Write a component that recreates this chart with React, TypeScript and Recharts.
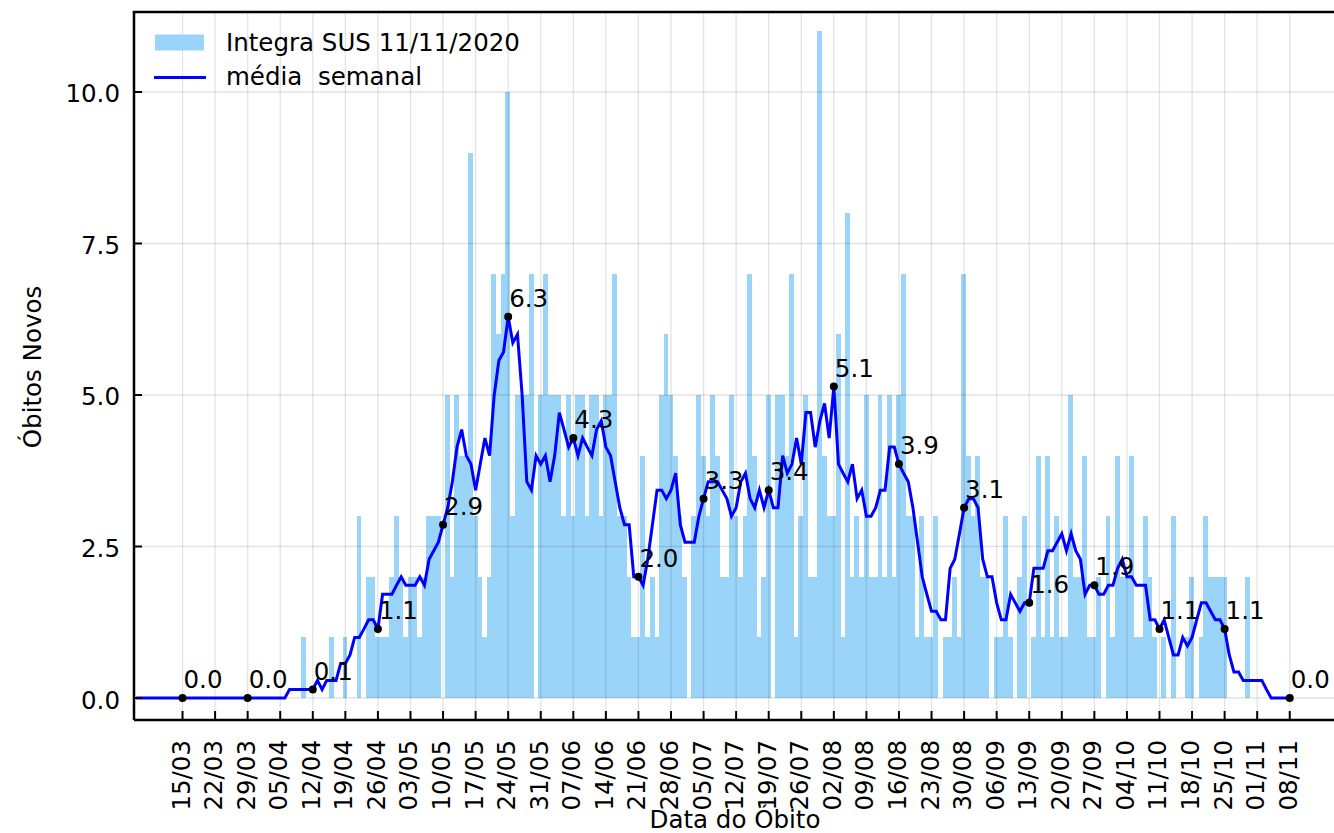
import React from 'react';
import { ComposedChart, Bar, Line, XAxis, YAxis, ReferenceLine } from 'recharts';

// day index 0 = 15/03/2020; arrays start at day -10
const FIRST_DAY = -10;

const dailyDeaths = [
  0, 0, 0, 0, 0, 0, 0, 0, 0, 0,
  0, 0, 0, 0, 0, 0, 0, 0, 0, 0,
  0, 0, 0, 0, 0, 0, 0, 0, 0, 0,
  0, 0, 0, 0, 0, 0, 1, 0, 0, 0,
  0, 0, 1, 0, 0, 1, 0, 0, 3, 0,
  2, 2, 1, 1, 1, 2, 3, 2, 1, 2,
  2, 1, 2, 3, 3, 3, 0, 5, 2, 5,
  4, 4, 9, 3, 2, 1, 2, 7, 6, 7,
  10, 3, 5, 5, 5, 7, 0, 5, 7, 5,
  5, 5, 3, 5, 3, 5, 5, 3, 5, 5,
  3, 5, 5, 7, 3, 3, 2, 1, 1, 4,
  1, 2, 1, 5, 6, 5, 4, 3, 2, 0,
  3, 5, 4, 3, 5, 4, 2, 2, 5, 3,
  2, 3, 7, 4, 1, 2, 5, 0, 5, 5,
  4, 7, 1, 3, 5, 2, 2, 11, 4, 3,
  3, 6, 1, 8, 2, 3, 2, 5, 2, 2,
  5, 2, 5, 2, 5, 7, 3, 3, 1, 3,
  1, 1, 3, 0, 1, 1, 2, 1, 7, 4,
  3, 4, 2, 2, 0, 1, 1, 3, 1, 0,
  2, 3, 0, 1, 4, 1, 4, 1, 3, 1,
  1, 5, 2, 2, 4, 1, 1, 2, 0, 3,
  1, 4, 2, 2, 4, 1, 1, 3, 2, 1,
  0, 1, 0, 3, 0, 0, 1, 2, 0, 1,
  3, 2, 2, 2, 2, 0, 0, 0, 0, 2,
  0, 0, 0, 0, 0, 0, 0, 0, 0,
];

const weeklyAverage = [
  0, 0, 0, 0, 0, 0, 0, 0, 0, 0,
  0, 0, 0, 0, 0, 0, 0, 0, 0, 0,
  0, 0, 0, 0, 0, 0, 0, 0, 0, 0,
  0, 0, 0, 0.14, 0.14, 0.14, 0.14, 0.14, 0.14, 0.29,
  0.14, 0.29, 0.29, 0.29, 0.57, 0.57, 0.71, 1.0, 1.0, 1.14,
  1.29, 1.29, 1.14, 1.71, 1.71, 1.71, 1.86, 2.0, 1.86, 1.86,
  1.86, 2.0, 1.86, 2.29, 2.43, 2.57, 2.86, 3.14, 3.57, 4.14,
  4.43, 4.0, 3.86, 3.43, 3.86, 4.29, 4.0, 5.0, 5.57, 5.71,
  6.29, 5.86, 6.0, 5.0, 3.57, 3.43, 4.0, 3.86, 4.0, 3.57,
  4.0, 4.71, 4.43, 4.14, 4.29, 4.0, 4.29, 4.14, 4.0, 4.43,
  4.57, 4.14, 4.0, 3.57, 3.14, 2.86, 2.86, 2.0, 2.0, 1.86,
  2.29, 2.86, 3.43, 3.43, 3.29, 3.43, 3.71, 2.86, 2.57, 2.57,
  2.57, 3.0, 3.29, 3.57, 3.57, 3.57, 3.43, 3.29, 3.0, 3.14,
  3.57, 3.71, 3.29, 3.14, 3.43, 3.14, 3.43, 3.14, 3.14, 4.0,
  3.71, 3.86, 4.29, 3.86, 4.71, 4.71, 4.14, 4.57, 4.86, 4.29,
  5.14, 3.86, 3.71, 3.57, 3.86, 3.29, 3.43, 3.0, 3.0, 3.14,
  3.43, 3.43, 4.14, 4.14, 3.86, 3.71, 3.57, 3.14, 2.57, 2.0,
  1.71, 1.43, 1.43, 1.29, 1.29, 2.14, 2.29, 2.71, 3.14, 3.29,
  3.29, 3.14, 2.29, 2.0, 2.0, 1.57, 1.29, 1.29, 1.71, 1.57,
  1.43, 1.57, 1.57, 2.14, 2.14, 2.14, 2.43, 2.43, 2.57, 2.71,
  2.43, 2.71, 2.43, 2.29, 1.71, 1.86, 1.86, 1.71, 1.71, 1.86,
  1.86, 2.14, 2.29, 2.0, 2.0, 1.86, 1.86, 1.86, 1.29, 1.29,
  1.14, 1.29, 1.0, 0.71, 0.71, 1.0, 0.86, 1.0, 1.29, 1.57,
  1.57, 1.43, 1.29, 1.29, 1.14, 0.71, 0.43, 0.43, 0.29, 0.29,
  0.29, 0.29, 0.29, 0.14, 0, 0, 0, 0, 0,
];

const xTickLabels = [
  '15/03', '22/03', '29/03', '05/04', '12/04', '19/04', '26/04', '03/05', '10/05',
  '17/05', '24/05', '31/05', '07/06', '14/06', '21/06', '28/06', '05/07', '12/07',
  '19/07', '26/07', '02/08', '09/08', '16/08', '23/08', '30/08', '06/09', '13/09',
  '20/09', '27/09', '04/10', '11/10', '18/10', '25/10', '01/11', '08/11',
];

const markerLabels = [
  '0.0', '0.0', '0.1', '1.1', '2.9', '6.3', '4.3', '2.0', '3.3',
  '3.4', '5.1', '3.9', '3.1', '1.6', '1.9', '1.1', '1.1', '0.0',
];

const yTicks = [0, 2.5, 5, 7.5, 10];

const xTicks = xTickLabels.map((_, i) => i * 7);
const LAST_MARK = (markerLabels.length - 1) * 14;

const data = dailyDeaths.map((v, i) => {
  const day = FIRST_DAY + i;
  const isMark = day >= 0 && day <= LAST_MARK && day % 14 === 0;
  return {
    day,
    deaths: v,
    avg: weeklyAverage[i],
    mark: isMark ? weeklyAverage[i] : null,
  };
});

const FONT = 'DejaVu Sans';
const FS = 24.5;
const PLOT_LEFT = 134;
const PLOT_BOTTOM = 720;
const BAR_COLOR = '#9ad4f8';
const GRID = 'rgba(0,0,0,0.11)';

const YTick = (props: any) => {
  const { y, payload } = props;
  return (
    <g>
      <line x1={PLOT_LEFT} x2={PLOT_LEFT + 8} y1={y} y2={y} stroke="#000" strokeWidth={2} />
      <text x={PLOT_LEFT - 14} y={y} dy={10.5} textAnchor="end" fontSize={FS} fontFamily={FONT} fill="#000">
        {Number(payload.value).toFixed(1)}
      </text>
    </g>
  );
};

const XTick = (props: any) => {
  const { x, payload } = props;
  const label = xTickLabels[Math.round(payload.value / 7)];
  return (
    <g>
      <line x1={x} x2={x} y1={PLOT_BOTTOM} y2={PLOT_BOTTOM - 9} stroke="#000" strokeWidth={2} />
      <text
        transform={`translate(${x + 7},740) rotate(-90)`}
        textAnchor="end"
        fontSize={FS}
        fontFamily={FONT}
        fill="#000"
      >
        {label}
      </text>
    </g>
  );
};

const BarShape = (props: any) => {
  const { x, y, width, height } = props;
  if (!height || height <= 0) return <g />;
  const cx = x + width / 2;
  return (
    <rect x={cx - 2.45} y={y} width={4.9} height={height} fill={BAR_COLOR} shapeRendering="crispEdges" />
  );
};

const MarkDot = (props: any) => {
  const { cx, cy, payload } = props;
  if (!payload || payload.mark == null || cx == null || cy == null) return <g key={props.key} />;
  const label = markerLabels[Math.round(payload.day / 14)];
  return (
    <g key={props.key}>
      <circle cx={cx} cy={cy} r={4} fill="#000" />
      <text x={cx + 1} y={cy - 10} fontSize={FS} fontFamily={FONT} fill="#000">
        {label}
      </text>
    </g>
  );
};

export default function App() {
  return (
    <div
      style={{
        position: 'absolute',
        left: 0,
        top: 0,
        width: 1334,
        height: 833,
        overflow: 'hidden',
        background: '#fff',
      }}
    >
      <ComposedChart
        width={1400}
        height={833}
        data={data}
        margin={{ top: 12, right: 60, bottom: 0, left: 0 }}
      >
        <XAxis
          dataKey="day"
          type="number"
          domain={[-10.43, 248.8]}
          ticks={xTicks}
          interval={0}
          allowDataOverflow
          height={113}
          tickSize={0}
          tickLine={false}
          axisLine={{ stroke: '#000', strokeWidth: 2.5 }}
          tick={<XTick />}
        />
        <YAxis
          type="number"
          domain={[-0.363, 11.32]}
          ticks={yTicks}
          interval={0}
          allowDataOverflow
          width={134}
          tickSize={0}
          tickLine={false}
          axisLine={{ stroke: '#000', strokeWidth: 2.5 }}
          tick={<YTick />}
        />
        <Bar dataKey="deaths" fill={BAR_COLOR} barSize={4} shape={<BarShape />} isAnimationActive={false} />
        {xTicks.map((t) => (
          <ReferenceLine key={'gx' + t} x={t} stroke={GRID} strokeWidth={1.3} />
        ))}
        {yTicks.map((t) => (
          <ReferenceLine key={'gy' + t} y={t} stroke={GRID} strokeWidth={1.3} />
        ))}
        <Line
          dataKey="avg"
          type="linear"
          stroke="#0000ff"
          strokeWidth={3}
          dot={false}
          activeDot={false}
          isAnimationActive={false}
        />
        <Line
          dataKey="mark"
          type="linear"
          stroke="none"
          connectNulls={false}
          dot={<MarkDot />}
          activeDot={false}
          isAnimationActive={false}
        />
      </ComposedChart>
      <svg
        width={1334}
        height={833}
        style={{ position: 'absolute', left: 0, top: 0, pointerEvents: 'none' }}
      >
        <line x1={PLOT_LEFT - 1.25} x2={1334} y1={12} y2={12} stroke="#000" strokeWidth={2.5} />
        <rect x={155} y={34.5} width={49} height={16} fill={BAR_COLOR} />
        <line x1={154} x2={206} y1={77.5} y2={77.5} stroke="#0000ff" strokeWidth={3} />
        <text x={226} y={50.5} fontSize={FS} fontFamily={FONT} fill="#000">
          Integra SUS 11/11/2020
        </text>
        <text x={226} y={85} fontSize={FS} fontFamily={FONT} fill="#000" style={{ whiteSpace: 'pre' }}>
          {'média  semanal'}
        </text>
        <text x={735} y={828} textAnchor="middle" fontSize={FS} fontFamily={FONT} fill="#000">
          Data do Óbito
        </text>
        <text
          transform="translate(41,367) rotate(-90)"
          textAnchor="middle"
          fontSize={FS}
          fontFamily={FONT}
          fill="#000"
        >
          Óbitos Novos
        </text>
      </svg>
    </div>
  );
}
